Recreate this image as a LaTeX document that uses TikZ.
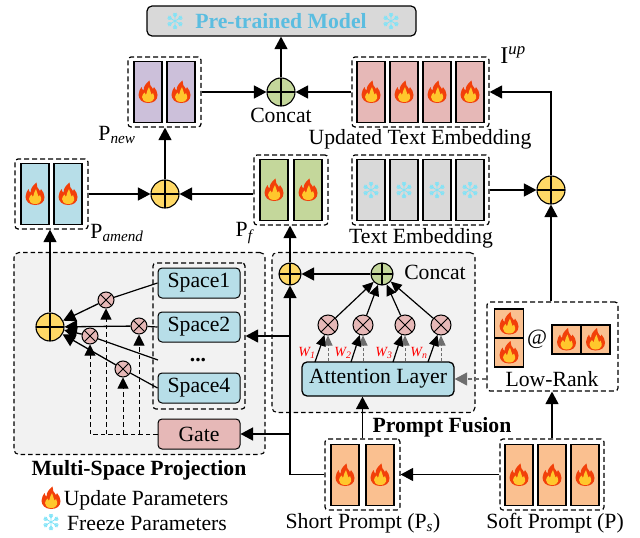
\documentclass[tikz,border=0pt]{standalone}
\usepackage{fontspec}
\setmainfont{Liberation Serif}
\usetikzlibrary{arrows.meta}

\definecolor{orangecell}{HTML}{FAC090}
\definecolor{purplecell}{HTML}{CCC0DA}
\definecolor{pinkcell}{HTML}{E6B8B7}
\definecolor{greencell}{HTML}{C4D79B}
\definecolor{bluecell}{HTML}{B7DEE8}
\definecolor{graycell}{HTML}{D9D9D9}
\definecolor{panelgray}{HTML}{F2F2F2}
\definecolor{sumyellow}{HTML}{FFD966}
\definecolor{frozenblue}{HTML}{5BBDE0}
\definecolor{icecolor}{HTML}{7FE3F7}
\definecolor{flameouter}{HTML}{F2400A}
\definecolor{flameinner}{HTML}{FFC72C}
\definecolor{dashgray}{HTML}{6E6E6E}

\def\cellWidth{28}
\def\cellHeight{61}
\def\sumSize{28}
\def\smallSumSize{22}
\def\mulSize{20}
\def\labelSize{\fontsize{21.7}{22}\selectfont}

\tikzset{
    cell/.style = {draw, line width = 1.4pt, minimum width = \cellWidth pt, minimum height = \cellHeight pt, inner sep = 0pt},
    squarecell/.style = {draw, line width = 1.2pt, fill = orangecell, minimum width = 29pt, minimum height = 29pt, inner sep = 0pt},
    groupbox/.style = {draw, dash pattern = on 5pt off 3pt, line width = 1.2pt, rounded corners = 3pt, inner sep = 0pt},
    panel/.style = {draw, dash pattern = on 4.5pt off 3pt, line width = 1.1pt, rounded corners = 5pt, fill = panelgray, inner sep = 0pt},
    softbox/.style = {draw, line width = 1pt, rounded corners = 4pt, inner sep = 0pt, minimum width = 82pt, minimum height = 30pt, font = \labelSize},
    sumnode/.style = {
        circle, draw, line width = 1.1pt, inner sep = 0pt, minimum size = \sumSize pt,
        path picture = {
            \draw [line width = 1.1pt]
            (path picture bounding box.north) -- (path picture bounding box.south)
            (path picture bounding box.east) -- (path picture bounding box.west);
        }
    },
    mulnode/.style = {
        circle, draw, line width = 1pt, inner sep = 0pt, fill = pinkcell, minimum size = \mulSize pt,
        path picture = {
            \draw [line width = 1pt]
            (path picture bounding box.north west) -- (path picture bounding box.south east)
            (path picture bounding box.north east) -- (path picture bounding box.south west);
        }
    },
    conn/.style = {line width = 1.3pt, -{Triangle[length = 12.5pt, width = 13pt]}},
    smallconn/.style = {line width = 1.2pt, -{Triangle[length = 11pt, width = 10pt]}},
    plainline/.style = {line width = 1.2pt},
    dashconn/.style = {line width = 0.9pt, dash pattern = on 4.5pt off 3pt, -{Triangle[length = 11pt, width = 11pt]}},
    grayconn/.style = {line width = 1pt, dashgray, dash pattern = on 3pt off 2pt, -{Triangle[length = 10pt, width = 9pt]}},
    lbl/.style = {inner sep = 0pt, font = \labelSize},
    boldlbl/.style = {inner sep = 0pt, font = \labelSize\bfseries},
    weightlbl/.style = {inner sep = 0pt, text = red, font = \fontsize{14}{14}\selectfont\itshape},
    flame/.pic = {
        \fill [flameouter]
        (0,11) .. controls (-6,11) and (-9.5,7) .. (-9.5,2.5)
        .. controls (-9.5,-1) and (-7.5,-3) .. (-6.5,-5)
        .. controls (-6,-3) and (-5.5,-2) .. (-4.5,-1.5)
        .. controls (-4.5,-6) and (-1.5,-9) .. (1.5,-11.5)
        .. controls (1,-8) and (3,-5.5) .. (5,-3)
        .. controls (5.5,-3.5) and (5.8,-4.2) .. (6,-5)
        .. controls (8,-2.5) and (9.5,0) .. (9.5,3)
        .. controls (9.5,8) and (6,11) .. (0,11) -- cycle;
        \fill [flameinner]
        (0,10) .. controls (-4,10) and (-6,7.5) .. (-6,5)
        .. controls (-6,3) and (-4.5,2) .. (-3.5,0.5)
        .. controls (-3,2) and (-2.5,2.5) .. (-2,3)
        .. controls (-1.5,0) and (0,-3) .. (1,-5)
        .. controls (1.5,-2) and (3,0) .. (3.5,2.5)
        .. controls (4,2.5) and (4.5,2) .. (5,1)
        .. controls (6,3) and (6.5,5) .. (6,6.5)
        .. controls (5.5,8.5) and (3.5,10) .. (0,10) -- cycle;
    },
    snow/.pic = {
        \foreach \ang in {30,90,...,330} {
            \draw [icecolor, line width = 0.8pt, rotate = \ang]
            (0,0) -- (8,0)
            (4,0) -- (6.5,-2) (4,0) -- (6.5,2)
            (6,0) -- (8,-1.5) (6,0) -- (8,1.5)
            ;
        }
    },
}

\begin{document}
\begin{tikzpicture}[x = 1pt, y = -1pt]
    \useasboundingbox (0,0) rectangle (640,538);

    %% panels behind everything
    \node [panel, minimum width = 251pt, minimum height = 202pt] (spacepanel) at (139.5,353.5) {};
    \node [panel, minimum width = 203pt, minimum height = 160pt] (fusionpanel) at (373.5,332.5) {};

    %% pre-trained model
    \node [draw, line width = 1.2pt, rounded corners = 5pt, fill = graycell, inner sep = 0pt,
        minimum width = 269pt, minimum height = 30pt] (model) at (281.5,21) {};
    \node [boldlbl, text = frozenblue] (modellbl) at (281,21) {Pre-trained Model};
    \pic at (175,21) {snow};
    \pic at (391,21) {snow};

    %% new prompt
    \node [groupbox, minimum width = 73pt, minimum height = 70pt] (pnew) at (164.5,92) {};
    \node [cell, fill = purplecell] (pnewa) at (148,92) {};
    \node [cell, fill = purplecell] (pnewb) at (181,92) {};
    \pic at (pnewa) {flame};
    \pic at (pnewb) {flame};
    \node [lbl] (pnewlbl) at (117,135) {P\textsubscript{\textit{new}}};

    %% updated text embedding
    \node [groupbox, minimum width = 137pt, minimum height = 70pt] (iup) at (420.5,92) {};
    \node [cell, fill = pinkcell] (iupa) at (371,92) {};
    \node [cell, fill = pinkcell] (iupb) at (404,92) {};
    \node [cell, fill = pinkcell] (iupc) at (437,92) {};
    \node [cell, fill = pinkcell] (iupd) at (470,92) {};
    \pic at (iupa) {flame};
    \pic at (iupb) {flame};
    \pic at (iupc) {flame};
    \pic at (iupd) {flame};
    \node [lbl, font = \fontsize{24}{24}\selectfont] (iuplbl) at (513,55) {I\textsuperscript{\textit{up}}};
    \node [lbl] (iupname) at (420,139) {Updated Text Embedding};

    %% text embedding
    \node [groupbox, minimum width = 137pt, minimum height = 70pt] (textemb) at (420.5,190) {};
    \node [cell, fill = graycell] (texta) at (371,190) {};
    \node [cell, fill = graycell] (textb) at (404,190) {};
    \node [cell, fill = graycell] (textc) at (437,190) {};
    \node [cell, fill = graycell] (textd) at (470,190) {};
    \pic at (texta) {snow};
    \pic at (textb) {snow};
    \pic at (textc) {snow};
    \pic at (textd) {snow};
    \node [lbl] (textname) at (421,238) {Text Embedding};

    %% fused prompt
    \node [groupbox, minimum width = 74pt, minimum height = 70pt] (pf) at (291,190) {};
    \node [cell, fill = greencell] (pfa) at (274,190) {};
    \node [cell, fill = greencell] (pfb) at (308,190) {};
    \pic at (pfa) {flame};
    \pic at (pfb) {flame};
    \node [lbl] (pflbl) at (245,233) {P\textsubscript{\textit{f}}};

    %% amended prompt
    \node [groupbox, minimum width = 73pt, minimum height = 70pt] (pamend) at (51.5,194) {};
    \node [cell, fill = bluecell] (pamenda) at (35,194) {};
    \node [cell, fill = bluecell] (pamendb) at (68,194) {};
    \pic at (pamenda) {flame};
    \pic at (pamendb) {flame};
    \node [lbl] (pamendlbl) at (117,233) {P\textsubscript{\textit{amend}}};

    %% sums along the top
    \node [sumnode, fill = greencell] (concatsum) at (281,92) {};
    \node [lbl] (concatlbl) at (281,115) {Concat};
    \node [sumnode, fill = sumyellow] (amendsum) at (165,194) {};
    \node [sumnode, fill = sumyellow] (textsum) at (551,190) {};

    %% multi-space projection
    \node [sumnode, fill = sumyellow] (spacesum) at (50,327) {};
    \node [groupbox, minimum width = 92pt, minimum height = 146pt] (spaces) at (199,336) {};
    \node [softbox, fill = bluecell] (spacea) at (199,283) {Space1};
    \node [softbox, fill = bluecell] (spaceb) at (199,327) {Space2};
    \node [softbox, fill = bluecell] (spaced) at (199,388) {Space4};
    \node [boldlbl] (spacedots) at (198,360) {...};
    \node [softbox, fill = pinkcell] (gate) at (199,434) {Gate};
    \node [mulnode, minimum size = 16pt] (mulone) at (106,300) {};
    \node [mulnode, minimum size = 16pt] (multwo) at (139,326) {};
    \node [mulnode, minimum size = 16pt] (multhree) at (90,336) {};
    \node [mulnode, minimum size = 16pt] (mulfour) at (123,369) {};
    \coordinate (dotsend) at (158,360);
    \node [boldlbl] (spacename) at (139,470) {Multi-Space Projection};

    %% legend
    \pic at (51,498) {flame};
    \node [lbl] (updatelbl) at (146,500) {Update Parameters};
    \pic at (51,522) {snow};
    \node [lbl] (freezelbl) at (147,523) {Freeze Parameters};

    %% prompt fusion
    \node [sumnode, fill = sumyellow, minimum size = \smallSumSize pt] (fusedsum) at (290,274) {};
    \node [sumnode, fill = greencell, minimum size = \smallSumSize pt] (fusionsum) at (382,274) {};
    \node [lbl] (fusionconcat) at (435,272) {Concat};
    \node [mulnode] (mula) at (328,325) {};
    \node [mulnode] (mulb) at (363,325) {};
    \node [mulnode] (mulc) at (405,325) {};
    \node [mulnode] (muld) at (441,325) {};
    \node [draw, line width = 1.3pt, rounded corners = 5pt, fill = bluecell, inner sep = 0pt,
        minimum width = 152pt, minimum height = 34pt, font = \labelSize] (attn) at (378,379) {Attention Layer};
    \coordinate (wa) at (315,362);
    \coordinate (wb) at (351,362);
    \coordinate (wc) at (393,362);
    \coordinate (wd) at (428,362);
    \node [weightlbl] (wlbla) at (307,353) {W\textsubscript{1}};
    \node [weightlbl] (wlblb) at (343,353) {W\textsubscript{2}};
    \node [weightlbl] (wlblc) at (384,353) {W\textsubscript{3}};
    \node [weightlbl] (wlbld) at (419,353) {W\textsubscript{n}};
    \node [boldlbl] (fusionname) at (442,427) {Prompt Fusion};

    %% low-rank
    \node [groupbox, minimum width = 131pt, minimum height = 89pt] (lowrank) at (552.5,346.5) {};
    \node [squarecell] (lowa) at (509,323.5) {};
    \node [squarecell] (lowb) at (509,352.5) {};
    \node [squarecell] (lowc) at (566.5,339.5) {};
    \node [squarecell] (lowd) at (595.5,339.5) {};
    \pic at (lowa) {flame};
    \pic at (lowb) {flame};
    \pic at (lowc) {flame};
    \pic at (lowd) {flame};
    \node [lbl] (atlbl) at (537,339) {@};
    \node [lbl] (lowlbl) at (552,379) {Low-Rank};

    %% short and soft prompts
    \node [groupbox, minimum width = 75pt, minimum height = 71pt] (short) at (362.5,474.5) {};
    \node [cell, fill = orangecell] (shorta) at (345,475) {};
    \node [cell, fill = orangecell] (shortb) at (380,475) {};
    \pic at (shorta) {flame};
    \pic at (shortb) {flame};
    \node [lbl] (shortlbl) at (363,523) {Short Prompt (P\textsubscript{\textit{s}})};
    \node [groupbox, minimum width = 104pt, minimum height = 71pt] (soft) at (552,474.5) {};
    \node [cell, fill = orangecell] (softa) at (519,475) {};
    \node [cell, fill = orangecell] (softb) at (552,475) {};
    \node [cell, fill = orangecell] (softc) at (585,475) {};
    \pic at (softa) {flame};
    \pic at (softb) {flame};
    \pic at (softc) {flame};
    \node [lbl] (softlbl) at (555,523) {Soft Prompt (P)};

    %% connectors at the top
    \draw [conn] (concatsum) -- (model.south -| concatsum);
    \draw [conn] (pnew) -- (concatsum);
    \draw [conn] (iup) -- (concatsum);
    \draw [conn] (amendsum) -- (amendsum |- pnew.south);
    \draw [conn] (pamend.east |- amendsum) -- (amendsum);
    \draw [conn] (pf.west |- amendsum) -- (amendsum);
    \draw [conn] (textemb) -- (textsum);
    \draw [conn] (textsum) |- (iup.east);
    \draw [conn] (textsum |- lowrank.north) -- (textsum);

    %% connectors of the projection
    \draw [conn] (spacesum) -- (spacesum |- pamend.south);
    \draw [plainline] (spacea.west) -- (mulone);
    \draw [plainline] (spaceb.west) -- (multwo);
    \draw [plainline] (dotsend) -- (multhree);
    \draw [plainline] (spaced.west) -- (mulfour);
    \draw [conn] (mulone) -- (spacesum);
    \draw [conn] (multwo) -- (spacesum);
    \draw [conn] (multhree) -- (spacesum);
    \draw [conn] (mulfour) -- (spacesum);
    \draw [dashconn] (gate.west) -| (multhree);
    \draw [dashconn] (mulone |- gate.west) -- (mulone);
    \draw [dashconn] (mulfour |- gate.west) -- (mulfour);
    \draw [dashconn] (multwo |- gate.west) -- (multwo);

    %% connectors of the fusion
    \draw [conn] (short.west) -| (fusedsum);
    \draw [conn] (fusedsum) -- (fusedsum |- pf.south);
    \draw [conn] (fusedsum |- spaces.east) -- (spaces.east);
    \draw [conn] (fusedsum |- gate.east) -- (gate.east);
    \draw [conn] (fusionsum) -- (fusedsum);
    \draw [smallconn] (mula) -- (fusionsum);
    \draw [smallconn] (mulb) -- (fusionsum);
    \draw [smallconn] (mulc) -- (fusionsum);
    \draw [smallconn] (muld) -- (fusionsum);
    \draw [grayconn] (mula |- attn.north) -- (mula);
    \draw [grayconn] (mulb |- attn.north) -- (mulb);
    \draw [grayconn] (mulc |- attn.north) -- (mulc);
    \draw [grayconn] (muld |- attn.north) -- (muld);
    \draw [smallconn] (wa) -- (mula);
    \draw [smallconn] (wb) -- (mulb);
    \draw [smallconn] (wc) -- (mulc);
    \draw [smallconn] (wd) -- (muld);
    \draw [conn] (short.north) -- (short.north |- attn.south);
    \draw [conn, dashgray, dash pattern = on 4pt off 3pt] (lowrank.west |- attn) -- (attn.east);
    \draw [conn] (soft.north) -- (soft.north |- lowrank.south);
    \draw [conn] (soft.west) -- (short.east);
\end{tikzpicture}
\end{document}
